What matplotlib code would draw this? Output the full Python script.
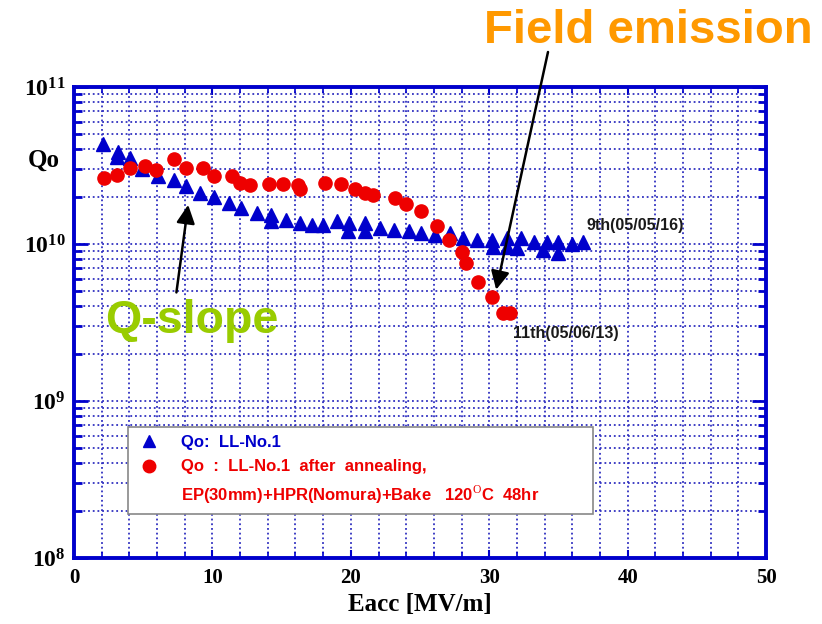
import numpy as np
import matplotlib.pyplot as plt
from matplotlib.lines import Line2D
from matplotlib.ticker import MultipleLocator, LogLocator, NullFormatter, FixedLocator

plt.rcParams['mathtext.fontset'] = 'custom'
plt.rcParams['mathtext.rm'] = 'Liberation Serif'
plt.rcParams['mathtext.bf'] = 'Liberation Serif:bold'

# 9th test (05/05/16) - Qo: LL-No.1
eacc_9th = [2.1, 3.1, 3.2, 4.05, 4.9, 6.1, 7.2, 8.1, 9.1, 10.1, 11.2, 12.1, 13.2,
            14.2, 14.2, 15.3, 16.3, 17.2, 18.0, 19.0, 19.8, 19.9, 21.0, 21.0,
            22.1, 23.1, 24.2, 25.1, 26.1, 27.2, 28.1, 29.1, 30.2, 30.3, 31.3,
            31.3, 32.0, 32.3, 33.2, 33.9, 34.2, 35.0, 35.0, 36.0, 36.8]
q_9th = [4.3e10, 3.55e10, 3.85e10, 3.5e10, 3.0e10, 2.7e10, 2.55e10, 2.32e10,
         2.1e10, 2.0e10, 1.81e10, 1.70e10, 1.57e10, 1.53e10, 1.39e10, 1.42e10,
         1.35e10, 1.32e10, 1.32e10, 1.39e10, 1.2e10, 1.35e10, 1.35e10, 1.2e10,
         1.26e10, 1.23e10, 1.2e10, 1.17e10, 1.14e10, 1.17e10, 1.09e10, 1.06e10,
         1.06e10, 9.6e9, 1.09e10, 9.6e9, 9.4e9, 1.09e10, 1.03e10, 9.1e9, 1.03e10,
         1.03e10, 8.7e9, 1.0e10, 1.03e10]

# 11th test (05/06/13) - after annealing, EP+HPR+Bake
eacc_11th = [2.2, 3.1, 4.05, 5.1, 5.9, 7.2, 8.1, 9.3, 10.1, 11.4, 12.0, 12.7,
             14.1, 15.1, 16.2, 16.3, 18.1, 19.3, 20.3, 21.0, 21.6, 23.2, 24.0,
             25.1, 26.2, 27.1, 28.0, 28.3, 29.2, 30.2, 31.0, 31.5]
q_11th = [2.62e10, 2.75e10, 3.03e10, 3.14e10, 2.96e10, 3.46e10, 3.03e10, 3.03e10,
          2.71e10, 2.7e10, 2.44e10, 2.36e10, 2.4e10, 2.4e10, 2.36e10, 2.22e10,
          2.44e10, 2.4e10, 2.23e10, 2.1e10, 2.05e10, 1.95e10, 1.8e10, 1.61e10,
          1.29e10, 1.05e10, 8.9e9, 7.5e9, 5.75e9, 4.6e9, 3.65e9, 3.6e9]

blue = '#0000CC'
red = '#EE0000'
grid_c = '#3030C0'

fig = plt.figure(figsize=(8.22, 6.24), dpi=100)
ax = fig.add_axes([0.090, 0.106, 0.842, 0.755])

ax.plot(eacc_9th, q_9th, linestyle='none', marker='^', color=blue, markersize=10)
ax.plot(eacc_11th, q_11th, linestyle='none', marker='o', color=red, markersize=9.5)

ax.set_yscale('log')
ax.set_xlim(0, 50)
ax.set_ylim(1e8, 1e11)

ax.xaxis.set_major_locator(MultipleLocator(10))
ax.xaxis.set_minor_locator(MultipleLocator(2))
ax.yaxis.set_major_locator(FixedLocator([1e8, 1e9, 1e10, 1e11]))
ax.yaxis.set_minor_locator(LogLocator(base=10, subs=np.arange(2, 10)))
ax.yaxis.set_minor_formatter(NullFormatter())
ax.set_yticklabels([r'$\mathbf{10^{8}}$', r'$\mathbf{10^{9}}$',
                    r'$\mathbf{10^{10}}$', r'$\mathbf{10^{11}}$'])
ax.set_xticks([0, 10, 20, 30, 40, 50])
ax.set_xticklabels(['0', '10', '20', '30', '40', '50'])
for lab in ax.get_xticklabels():
    lab.set_fontfamily('Liberation Serif')
    lab.set_fontweight('bold')
ax.tick_params(axis='x', labelsize=15, pad=7)
ax.tick_params(axis='y', labelsize=17, pad=6)
ax.tick_params(which='both', direction='in', top=True, right=True, color=blue)
ax.tick_params(axis='y', which='major', length=10, width=2)
ax.tick_params(axis='y', which='minor', length=6, width=2)
ax.tick_params(axis='x', which='major', length=6, width=1.5)
ax.tick_params(axis='x', which='minor', length=4, width=1.2)

ax.grid(which='both', color=grid_c, linestyle=(0, (1, 1.6)), linewidth=1.3)
for s in ax.spines.values():
    s.set_color(blue)
    s.set_linewidth(2.8)

ax.set_xlabel('Eacc [MV/m]', fontsize=18, fontweight='bold', family='Liberation Serif', labelpad=4)
ax.set_ylabel('Qo', fontsize=18, fontweight='bold', family='Liberation Serif', rotation=0)
ax.yaxis.set_label_coords(-0.043, 0.82)

ax.text(37.0, 1.30e10, '9th(05/05/16)', fontsize=11.5, fontweight='bold',
        family='Liberation Sans', color='#1a1a1a', ha='left', va='center')
ax.text(31.7, 2.7e9, '11th(05/06/13)', fontsize=11.5, fontweight='bold',
        family='Liberation Sans', color='#1a1a1a', ha='left', va='center')

# legend
handles = [Line2D([], [], linestyle='none', marker='^', color=blue, markersize=9),
           Line2D([], [], linestyle='none', marker='o', color=red, markersize=9),
           Line2D([], [], linestyle='none')]
labels = ['Qo:  LL-No.1',
          'Qo  :  LL-No.1  after  annealing,',
          r'EP(30mm)+HPR(Nomura)+Bake   120$^{\mathrm{O}}$C  48hr']
leg = ax.legend(handles, labels, loc='upper left', bbox_to_anchor=(0.078, 0.098, 0.672, 0.18),
                mode='expand',
                prop={'family': 'Liberation Sans', 'weight': 'bold', 'size': 12},
                labelcolor=[blue, red, red], fancybox=False, framealpha=1,
                edgecolor='#888888', borderpad=0.5, labelspacing=0.55,
                handletextpad=1.2, handlelength=1.5, borderaxespad=0)
leg.get_frame().set_linewidth(1.2)

# annotations
fig.text(648 / 822, 1 - 43 / 624, 'Field emission', fontsize=34, fontweight='bold',
         family='Liberation Sans', color='#FF9900', ha='center', va='baseline')
fig.text(192 / 822, 1 - 333 / 624, 'Q-slope', fontsize=33.5, fontweight='bold',
         family='Liberation Sans', color='#99CC00', ha='center', va='baseline')

ax.annotate('', xy=(30.5, 5.1e9), xytext=(548 / 822, 1 - 52 / 624),
            textcoords='figure fraction',
            arrowprops=dict(arrowstyle='-|>', color='black', lw=1.8,
                            mutation_scale=28, shrinkA=0, shrinkB=0),
            annotation_clip=False)
ax.annotate('', xy=(8.25, 1.77e10), xytext=(7.4, 4.9e9),
            arrowprops=dict(arrowstyle='-|>', color='black', lw=1.8,
                            mutation_scale=28, shrinkA=0, shrinkB=0))

fig.savefig('out.png', dpi=100)
